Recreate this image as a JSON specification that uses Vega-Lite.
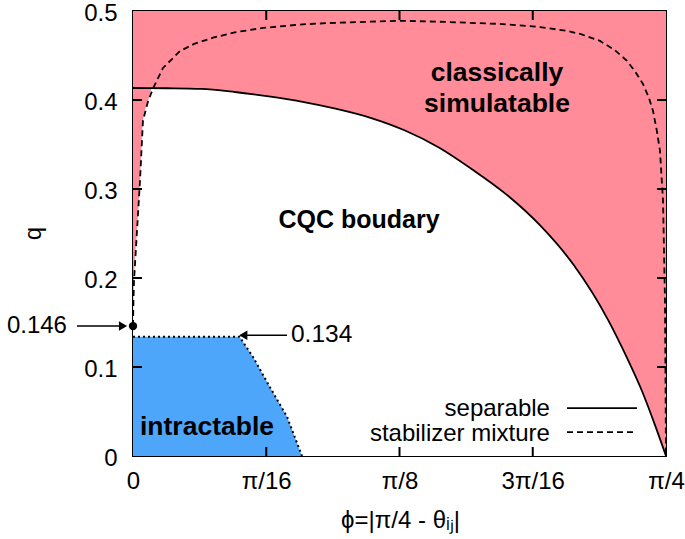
{
  "$schema": "https://vega.github.io/schema/vega-lite/v6.json",
  "width": 533,
  "height": 445,
  "autosize": {"type": "none"},
  "padding": {"left": 133, "top": 11, "right": 19, "bottom": 83},
  "background": "white",
  "config": {
    "font": "Liberation Sans",
    "view": {"stroke": "black", "strokeWidth": 2},
    "axis": {
      "grid": false,
      "domain": false,
      "ticks": false,
      "labelColor": "black",
      "labelFont": "Liberation Sans",
      "labelFontSize": 24,
      "titleFont": "Liberation Sans",
      "titleFontSize": 24,
      "titleFontWeight": "normal",
      "titleColor": "black",
      "labelFlush": false,
      "labelOverlap": false
    }
  },
  "datasets": {
    "frame": [{"x0": 0, "x1": 0.785398, "y0": 0, "y1": 0.5}],
    "white": [
      {"x": 0, "y": 0.146}, {"x": 0.0007, "y": 0.175}, {"x": 0.0015, "y": 0.197},
      {"x": 0.0059, "y": 0.253}, {"x": 0.0103, "y": 0.309}, {"x": 0.0147, "y": 0.377},
      {"x": 0.022, "y": 0.398}, {"x": 0.028, "y": 0.4133}, {"x": 0.05, "y": 0.4132},
      {"x": 0.1, "y": 0.4125}, {"x": 0.15, "y": 0.409}, {"x": 0.2, "y": 0.404},
      {"x": 0.25, "y": 0.398}, {"x": 0.3, "y": 0.39}, {"x": 0.35, "y": 0.38},
      {"x": 0.4, "y": 0.366}, {"x": 0.45, "y": 0.347}, {"x": 0.5, "y": 0.322},
      {"x": 0.55, "y": 0.294}, {"x": 0.6, "y": 0.259}, {"x": 0.65, "y": 0.214},
      {"x": 0.7, "y": 0.153}, {"x": 0.725, "y": 0.115}, {"x": 0.75, "y": 0.073},
      {"x": 0.77, "y": 0.033}, {"x": 0.785398, "y": 0}
    ],
    "sep": [
      {"x": 0, "y": 0.4135}, {"x": 0.05, "y": 0.4132},
      {"x": 0.1, "y": 0.4125}, {"x": 0.15, "y": 0.409}, {"x": 0.2, "y": 0.404},
      {"x": 0.25, "y": 0.398}, {"x": 0.3, "y": 0.39}, {"x": 0.35, "y": 0.38},
      {"x": 0.4, "y": 0.366}, {"x": 0.45, "y": 0.347}, {"x": 0.5, "y": 0.322},
      {"x": 0.55, "y": 0.294}, {"x": 0.6, "y": 0.259}, {"x": 0.65, "y": 0.214},
      {"x": 0.7, "y": 0.153}, {"x": 0.725, "y": 0.115}, {"x": 0.75, "y": 0.073},
      {"x": 0.77, "y": 0.033}, {"x": 0.785398, "y": 0}
    ],
    "stab": [
      {"i": 0, "x": 0, "y": 0.146}, {"i": 1, "x": 0.0007, "y": 0.175},
      {"i": 2, "x": 0.0015, "y": 0.197}, {"i": 3, "x": 0.0059, "y": 0.253},
      {"i": 4, "x": 0.0103, "y": 0.309}, {"i": 5, "x": 0.0147, "y": 0.377},
      {"i": 6, "x": 0.022, "y": 0.398}, {"i": 7, "x": 0.0295, "y": 0.413},
      {"i": 8, "x": 0.0442, "y": 0.436}, {"i": 9, "x": 0.0693, "y": 0.455},
      {"i": 10, "x": 0.09, "y": 0.463}, {"i": 11, "x": 0.1179, "y": 0.47},
      {"i": 12, "x": 0.15, "y": 0.476}, {"i": 13, "x": 0.1916, "y": 0.481},
      {"i": 14, "x": 0.25, "y": 0.485}, {"i": 15, "x": 0.2903, "y": 0.4865},
      {"i": 16, "x": 0.35, "y": 0.488}, {"i": 17, "x": 0.3934, "y": 0.489},
      {"i": 18, "x": 0.45, "y": 0.488}, {"i": 19, "x": 0.5408, "y": 0.4855},
      {"i": 20, "x": 0.6, "y": 0.482}, {"i": 21, "x": 0.6395, "y": 0.4776},
      {"i": 22, "x": 0.66, "y": 0.474}, {"i": 23, "x": 0.6881, "y": 0.4664},
      {"i": 24, "x": 0.71, "y": 0.456}, {"i": 25, "x": 0.7279, "y": 0.444},
      {"i": 26, "x": 0.74, "y": 0.432}, {"i": 27, "x": 0.7515, "y": 0.418},
      {"i": 28, "x": 0.76, "y": 0.403}, {"i": 29, "x": 0.7662, "y": 0.388},
      {"i": 30, "x": 0.772, "y": 0.365}, {"i": 31, "x": 0.7765, "y": 0.343},
      {"i": 32, "x": 0.781, "y": 0.287}, {"i": 33, "x": 0.7839, "y": 0.175},
      {"i": 34, "x": 0.7854, "y": 0}
    ],
    "blue": [
      {"x": 0, "y": 0.134}, {"x": 0.157, "y": 0.134}, {"x": 0.177, "y": 0.111},
      {"x": 0.202, "y": 0.077}, {"x": 0.227, "y": 0.044}, {"x": 0.249, "y": 0}
    ],
    "hticks": [
      {"tx": 0, "tx2": 0.0133, "ty": 0.1}, {"tx": 0, "tx2": 0.0133, "ty": 0.2},
      {"tx": 0, "tx2": 0.0133, "ty": 0.3}, {"tx": 0, "tx2": 0.0133, "ty": 0.4},
      {"tx": 0.7721, "tx2": 0.785398, "ty": 0.1}, {"tx": 0.7721, "tx2": 0.785398, "ty": 0.2},
      {"tx": 0.7721, "tx2": 0.785398, "ty": 0.3}, {"tx": 0.7721, "tx2": 0.785398, "ty": 0.4}
    ],
    "vticks": [
      {"tx": 0.19635, "ty": 0, "ty2": 0.0101}, {"tx": 0.392699, "ty": 0, "ty2": 0.0101},
      {"tx": 0.589049, "ty": 0, "ty2": 0.0101},
      {"tx": 0.19635, "ty": 0.4899, "ty2": 0.5}, {"tx": 0.392699, "ty": 0.4899, "ty2": 0.5},
      {"tx": 0.589049, "ty": 0.4899, "ty2": 0.5}
    ],
    "boldText": [
      {"x": 0.5364, "y": 0.4305, "t": "classically"},
      {"x": 0.5364, "y": 0.3957, "t": "simulatable"},
      {"x": 0.109, "y": 0.0325, "t": "intractable"}
    ],
    "boldText2": [
      {"x": 0.333, "y": 0.2657, "t": "CQC boudary"}
    ],
    "rightText": [
      {"x": -0.0973, "y": 0.146, "t": "0.146"},
      {"x": 0.6144, "y": 0.0528, "t": "separable"},
      {"x": 0.6144, "y": 0.0247, "t": "stabilizer mixture"}
    ],
    "leftText": [{"x": 0.2328, "y": 0.1357, "t": "0.134"}],
    "arrows": [
      {"x": -0.0825, "x2": -0.016, "y": 0.146},
      {"x": 0.163, "x2": 0.227, "y": 0.1357}
    ]
  },
  "layer": [
    {
      "data": {"name": "frame"},
      "mark": {"type": "rect", "color": "#ff8c98"},
      "encoding": {
        "x": {
          "field": "x0", "type": "quantitative",
          "scale": {"domain": [0, 0.785398], "nice": false, "zero": false},
          "axis": {
            "orient": "bottom",
            "values": [0, 0.19635, 0.392699, 0.589049, 0.785398],
            "labelExpr": "datum.value < 0.1 ? '0' : datum.value < 0.3 ? 'π/16' : datum.value < 0.5 ? 'π/8' : datum.value < 0.7 ? '3π/16' : 'π/4'",
            "labelPadding": 13,
            "title": "ϕ=|π/4 - θᵢⱼ|",
            "titleX": 267,
            "titleY": 64,
            "titleBaseline": "middle",
            "titleAlign": "center"
          }
        },
        "x2": {"field": "x1"},
        "y": {
          "field": "y0", "type": "quantitative",
          "scale": {"domain": [0, 0.5], "nice": false, "zero": false},
          "axis": {
            "orient": "left",
            "values": [0, 0.1, 0.2, 0.3, 0.4, 0.5],
            "format": "~g",
            "labelPadding": 16,
            "labelOffset": 2,
            "title": "q",
            "titleAngle": 270,
            "titleX": -100,
            "titleY": 222,
            "titleBaseline": "middle",
            "titleAlign": "center"
          }
        },
        "y2": {"field": "y1"}
      }
    },
    {
      "data": {"name": "white"},
      "mark": {"type": "area", "color": "white", "interpolate": "monotone"},
      "encoding": {
        "x": {"field": "x", "type": "quantitative"},
        "y": {"field": "y", "type": "quantitative"}
      }
    },
    {
      "data": {"name": "blue"},
      "mark": {"type": "area", "color": "#4da6fa"},
      "encoding": {
        "x": {"field": "x", "type": "quantitative"},
        "y": {"field": "y", "type": "quantitative"}
      }
    },
    {
      "data": {"name": "blue"},
      "mark": {"type": "line", "color": "black", "strokeWidth": 2, "strokeDash": [2, 3]},
      "encoding": {
        "x": {"field": "x", "type": "quantitative"},
        "y": {"field": "y", "type": "quantitative"}
      }
    },
    {
      "data": {"name": "sep"},
      "mark": {"type": "line", "color": "black", "strokeWidth": 1.8, "interpolate": "monotone"},
      "encoding": {
        "x": {"field": "x", "type": "quantitative"},
        "y": {"field": "y", "type": "quantitative"}
      }
    },
    {
      "data": {"name": "stab"},
      "mark": {"type": "line", "color": "black", "strokeWidth": 1.8, "strokeDash": [6, 4], "interpolate": "linear"},
      "encoding": {
        "x": {"field": "x", "type": "quantitative"},
        "y": {"field": "y", "type": "quantitative"},
        "order": {"field": "i"}
      }
    },
    {
      "data": {"name": "hticks"},
      "mark": {"type": "rule", "color": "black", "strokeWidth": 2},
      "encoding": {
        "x": {"field": "tx", "type": "quantitative"},
        "x2": {"field": "tx2"},
        "y": {"field": "ty", "type": "quantitative"}
      }
    },
    {
      "data": {"name": "vticks"},
      "mark": {"type": "rule", "color": "black", "strokeWidth": 2},
      "encoding": {
        "x": {"field": "tx", "type": "quantitative"},
        "y": {"field": "ty", "type": "quantitative"},
        "y2": {"field": "ty2"}
      }
    },
    {
      "data": {"name": "boldText"},
      "mark": {"type": "text", "fontWeight": "bold", "fontSize": 26.5, "color": "black", "align": "center", "baseline": "middle"},
      "encoding": {
        "x": {"field": "x", "type": "quantitative"},
        "y": {"field": "y", "type": "quantitative"},
        "text": {"field": "t"}
      }
    },
    {
      "data": {"name": "boldText2"},
      "mark": {"type": "text", "fontWeight": "bold", "fontSize": 25, "color": "black", "align": "center", "baseline": "middle"},
      "encoding": {
        "x": {"field": "x", "type": "quantitative"},
        "y": {"field": "y", "type": "quantitative"},
        "text": {"field": "t"}
      }
    },
    {
      "data": {"name": "rightText"},
      "mark": {"type": "text", "fontSize": 24, "color": "black", "align": "right", "baseline": "middle"},
      "encoding": {
        "x": {"field": "x", "type": "quantitative"},
        "y": {"field": "y", "type": "quantitative"},
        "text": {"field": "t"}
      }
    },
    {
      "data": {"name": "leftText"},
      "mark": {"type": "text", "fontSize": 24.5, "color": "black", "align": "left", "baseline": "middle"},
      "encoding": {
        "x": {"field": "x", "type": "quantitative"},
        "y": {"field": "y", "type": "quantitative"},
        "text": {"field": "t"}
      }
    },
    {
      "data": {"name": "arrows"},
      "mark": {"type": "rule", "color": "black", "strokeWidth": 1.5},
      "encoding": {
        "x": {"field": "x", "type": "quantitative"},
        "x2": {"field": "x2"},
        "y": {"field": "y", "type": "quantitative"}
      }
    },
    {
      "data": {"values": [{"x": -0.0147, "y": 0.146}]},
      "mark": {"type": "point", "shape": "triangle-right", "filled": true, "color": "black", "size": 90, "opacity": 1},
      "encoding": {
        "x": {"field": "x", "type": "quantitative"},
        "y": {"field": "y", "type": "quantitative"}
      }
    },
    {
      "data": {"values": [{"x": 0.1625, "y": 0.1357}]},
      "mark": {"type": "point", "shape": "triangle-left", "filled": true, "color": "black", "size": 90, "opacity": 1},
      "encoding": {
        "x": {"field": "x", "type": "quantitative"},
        "y": {"field": "y", "type": "quantitative"}
      }
    },
    {
      "data": {"values": [{"x": 0, "y": 0.146}]},
      "mark": {"type": "point", "shape": "circle", "filled": true, "color": "black", "size": 70, "opacity": 1},
      "encoding": {
        "x": {"field": "x", "type": "quantitative"},
        "y": {"field": "y", "type": "quantitative"}
      }
    },
    {
      "data": {"values": [{"x": 0.6395, "x2": 0.7426, "y": 0.0538}]},
      "mark": {"type": "rule", "color": "black", "strokeWidth": 1.8},
      "encoding": {
        "x": {"field": "x", "type": "quantitative"},
        "x2": {"field": "x2"},
        "y": {"field": "y", "type": "quantitative"}
      }
    },
    {
      "data": {"values": [{"x": 0.6395, "x2": 0.7426, "y": 0.0269}]},
      "mark": {"type": "rule", "color": "black", "strokeWidth": 1.8, "strokeDash": [6, 4]},
      "encoding": {
        "x": {"field": "x", "type": "quantitative"},
        "x2": {"field": "x2"},
        "y": {"field": "y", "type": "quantitative"}
      }
    }
  ]
}
